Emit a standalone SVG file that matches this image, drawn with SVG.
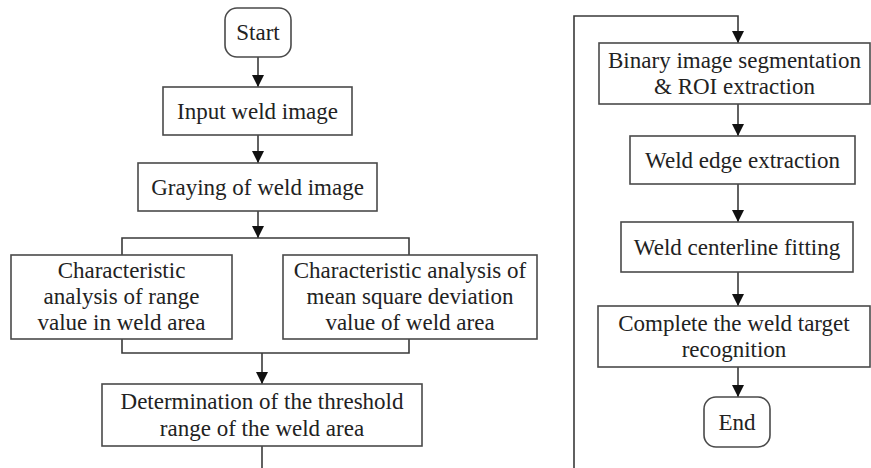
<svg xmlns="http://www.w3.org/2000/svg" width="871" height="468" viewBox="0 0 871 468">
  <defs>
    <marker id="arrow" viewBox="0 0 12 12" refX="12" refY="6" markerWidth="12" markerHeight="12" markerUnits="userSpaceOnUse" orient="auto">
      <path d="M0,0 L12,6 L0,12 Z" fill="#111111"/>
    </marker>
  </defs>
  <rect width="871" height="468" fill="#ffffff"/>

  <g id="connectors" fill="none" stroke="#3a3a3a" stroke-width="1.6">
    <line x1="258" y1="57" x2="258" y2="87" marker-end="url(#arrow)"/>
    <line x1="258" y1="135" x2="258" y2="163" marker-end="url(#arrow)"/>
    <line x1="258" y1="211" x2="258" y2="238" marker-end="url(#arrow)"/>
    <polyline points="122,255 122,238 409,238 409,255"/>
    <polyline points="122,339 122,353 409,353 409,339"/>
    <line x1="262" y1="353" x2="262" y2="384" marker-end="url(#arrow)"/>
    <line x1="262" y1="446" x2="262" y2="468"/>
    <polyline points="574,468 574,16 738,16 738,43" marker-end="url(#arrow)"/>
    <line x1="738" y1="104" x2="738" y2="136" marker-end="url(#arrow)"/>
    <line x1="738" y1="184" x2="738" y2="222" marker-end="url(#arrow)"/>
    <line x1="738" y1="272" x2="738" y2="306" marker-end="url(#arrow)"/>
    <line x1="738" y1="367" x2="738" y2="397" marker-end="url(#arrow)"/>
  </g>

  <!-- each node: box plus its label -->
  <g fill="#ffffff" stroke="#4a4a4a" stroke-width="1.6">
    <g id="start">
      <rect x="225" y="8" width="66" height="49" rx="12"/>
      <text x="258" y="40" style="font-family:'Liberation Serif',serif;font-size:23px;fill:#222;stroke:none;text-anchor:middle">Start</text>
    </g>
    <g id="input">
      <rect x="163" y="87" width="189" height="48"/>
      <text x="257.5" y="119" style="font-family:'Liberation Serif',serif;font-size:23px;fill:#222;stroke:none;text-anchor:middle">Input weld image</text>
    </g>
    <g id="graying">
      <rect x="138" y="163" width="239" height="48"/>
      <text x="257.5" y="195" style="font-family:'Liberation Serif',serif;font-size:23px;fill:#222;stroke:none;text-anchor:middle">Graying of weld image</text>
    </g>
    <g id="range-analysis">
      <rect x="11" y="255" width="221" height="84"/>
      <text x="121.5" y="278" style="font-family:'Liberation Serif',serif;font-size:23px;fill:#222;stroke:none;text-anchor:middle">Characteristic</text>
      <text x="121.5" y="304" style="font-family:'Liberation Serif',serif;font-size:23px;fill:#222;stroke:none;text-anchor:middle">analysis of range</text>
      <text x="121.5" y="330" style="font-family:'Liberation Serif',serif;font-size:23px;fill:#222;stroke:none;text-anchor:middle">value in weld area</text>
    </g>
    <g id="msd-analysis">
      <rect x="283" y="255" width="254" height="84"/>
      <text x="410" y="278" style="font-family:'Liberation Serif',serif;font-size:23px;fill:#222;stroke:none;text-anchor:middle">Characteristic analysis of</text>
      <text x="410" y="304" style="font-family:'Liberation Serif',serif;font-size:23px;fill:#222;stroke:none;text-anchor:middle">mean square deviation</text>
      <text x="410" y="330" style="font-family:'Liberation Serif',serif;font-size:23px;fill:#222;stroke:none;text-anchor:middle">value of weld area</text>
    </g>
    <g id="threshold">
      <rect x="102" y="384" width="320" height="62"/>
      <text x="262" y="409" style="font-family:'Liberation Serif',serif;font-size:23px;fill:#222;stroke:none;text-anchor:middle">Determination of the threshold</text>
      <text x="262" y="436" style="font-family:'Liberation Serif',serif;font-size:23px;fill:#222;stroke:none;text-anchor:middle">range of the weld area</text>
    </g>
    <g id="segmentation">
      <rect x="599" y="43" width="271" height="61"/>
      <text x="734.5" y="68" style="font-family:'Liberation Serif',serif;font-size:23px;fill:#222;stroke:none;text-anchor:middle">Binary image segmentation</text>
      <text x="734.5" y="94" style="font-family:'Liberation Serif',serif;font-size:23px;fill:#222;stroke:none;text-anchor:middle">&amp; ROI extraction</text>
    </g>
    <g id="edge">
      <rect x="630" y="136" width="225" height="48"/>
      <text x="742.5" y="168" style="font-family:'Liberation Serif',serif;font-size:23px;fill:#222;stroke:none;text-anchor:middle">Weld edge extraction</text>
    </g>
    <g id="centerline">
      <rect x="621" y="222" width="232" height="50"/>
      <text x="737" y="255" style="font-family:'Liberation Serif',serif;font-size:23px;fill:#222;stroke:none;text-anchor:middle">Weld centerline fitting</text>
    </g>
    <g id="recognition">
      <rect x="598" y="306" width="272" height="61"/>
      <text x="734" y="331" style="font-family:'Liberation Serif',serif;font-size:23px;fill:#222;stroke:none;text-anchor:middle">Complete the weld target</text>
      <text x="734" y="357" style="font-family:'Liberation Serif',serif;font-size:23px;fill:#222;stroke:none;text-anchor:middle">recognition</text>
    </g>
    <g id="end">
      <rect x="704" y="397" width="66" height="50" rx="12"/>
      <text x="737" y="430" style="font-family:'Liberation Serif',serif;font-size:23px;fill:#222;stroke:none;text-anchor:middle">End</text>
    </g>
  </g>
</svg>
